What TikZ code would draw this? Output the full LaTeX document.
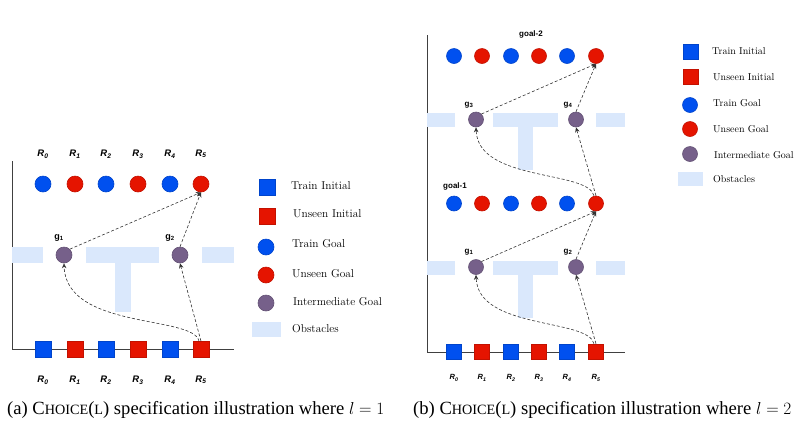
\documentclass[tikz,border=0pt]{standalone}
\usepackage{fontspec}
\usetikzlibrary{arrows.meta}
\newfontfamily\capfont{Liberation Serif}
\newfontfamily\labfont{Liberation Sans}

\definecolor{tblue}{HTML}{0050EF}
\definecolor{tred}{HTML}{E51400}
\definecolor{tpurple}{HTML}{76608A}
\definecolor{tobst}{HTML}{DAE8FC}

\newcommand\smcap[1]{{\fontsize{14.2}{14.2}\selectfont #1}}

\tikzset{
    initbox/.style={rectangle, minimum size=16pt, inner sep=0pt, fill=#1, draw=#1!85!black, line width=0.6pt},
    goaldot/.style={circle, minimum size=16pt, inner sep=0pt, fill=#1, draw=#1!85!black, line width=0.6pt},
    obstacle/.style={fill=tobst, draw=none},
    route/.style={densely dashed, line width=0.6pt, draw=black!80, -{Stealth[length=5pt,width=4.5pt]}},
    rlabel/.style={font=\labfont\bfseries\itshape\fontsize{9.5}{9.5}\selectfont, inner sep=0pt},
    glabel/.style={font=\labfont\bfseries\fontsize{9}{9}\selectfont, inner sep=0pt},
    legtext/.style={anchor=west, inner sep=0pt, font=\fontsize{11.4}{11.4}\selectfont},
}

\begin{document}
\begin{tikzpicture}[x=1pt, y=-1pt]

    \useasboundingbox (0,0) rectangle (803,424);

    % ---- (a) l = 1
    \draw[line width=0.8pt, black!75] (12,161) -- (12,349) -- (234,349);

    \fill[obstacle] (12,247) rectangle (43,263);
    \fill[obstacle] (86,247) rectangle (159,263);
    \fill[obstacle] (115,263) rectangle (131,312);
    \fill[obstacle] (202,247) rectangle (234,263);

    \foreach \i/\x/\c in {0/43/tblue, 1/75/tred, 2/106/tblue, 3/138/tred, 4/170/tblue, 5/201/tred} {
        \node[initbox=\c] (sa\i) at (\x,349.5) {};
        \node[goaldot=\c] (ga\i) at (\x,184) {};
        \node[rlabel] (ra\i) at (\x,154) {R\textsubscript{\i}};
        \node[rlabel] (qa\i) at (\x,380) {R\textsubscript{\i}};
    }

    \node[goaldot=tpurple] (ma1) at (64,255) {};
    \node[goaldot=tpurple] (ma2) at (180,255) {};
    \node[glabel] at (59,238) {g\textsubscript{1}};
    \node[glabel] at (170,238) {g\textsubscript{2}};

    \draw[route] ([xshift=-2pt]sa5.north) .. controls (194,315) and (66,330) .. (ma1.south);
    \draw[route] (sa5.north) -- (ma2.south);
    \draw[route] (ma1.north east) -- (ga5.south);
    \draw[route] (ma2.north) -- (ga5.south);

    % legend (a)
    \node[initbox=tblue] (la1) at (267,187) {};
    \node[initbox=tred] (la2) at (267,216) {};
    \node[goaldot=tblue] (la3) at (266,247) {};
    \node[goaldot=tred] (la4) at (266,275) {};
    \node[goaldot=tpurple] (la5) at (266,303) {};
    \fill[obstacle] (252,322) rectangle (281,337);
    \node[legtext] at (291,186) {Train Initial};
    \node[legtext] at (293,214) {Unseen Initial};
    \node[legtext] at (292,244) {Train Goal};
    \node[legtext] at (292,274) {Unseen Goal};
    \node[legtext] at (293,302) {Intermediate Goal};
    \node[legtext] at (292,329) {Obstacles};

    % ---- (b) l = 2
    \draw[line width=0.8pt, black!75] (427,35) -- (427,352) -- (625,352);

    \foreach \y in {113,261} {
        \fill[obstacle] (427,\y) rectangle (455,\y+14);
        \fill[obstacle] (493,\y) rectangle (558,\y+14);
        \fill[obstacle] (518,\y+14) rectangle (533,\y+57);
        \fill[obstacle] (596,\y) rectangle (625,\y+14);
    }

    \foreach \i/\x/\c in {0/454/tblue, 1/482/tred, 2/511/tblue, 3/539/tred, 4/567/tblue, 5/596/tred} {
        \node[initbox=\c, minimum size=15pt] (sb\i) at (\x,351.5) {};
        \node[goaldot=\c, minimum size=15pt] (hb\i) at (\x,203.5) {};
        \node[goaldot=\c, minimum size=15pt] (kb\i) at (\x,56) {};
        \node[rlabel, font=\labfont\bfseries\itshape\fontsize{7.5}{7.5}\selectfont] (rb\i) at (\x,378) {R\textsubscript{\i}};
    }

    \node[glabel, font=\labfont\bfseries\fontsize{8}{8}\selectfont] at (531,34) {goal-2};
    \node[glabel, font=\labfont\bfseries\fontsize{8}{8}\selectfont] at (455,186) {goal-1};

    \node[goaldot=tpurple, minimum size=15pt] (mb1) at (476,267) {};
    \node[goaldot=tpurple, minimum size=15pt] (mb2) at (576,267) {};
    \node[goaldot=tpurple, minimum size=15pt] (mb3) at (476,119.5) {};
    \node[goaldot=tpurple, minimum size=15pt] (mb4) at (576,119.5) {};
    \node[glabel, font=\labfont\bfseries\fontsize{8}{8}\selectfont] at (469,252) {g\textsubscript{1}};
    \node[glabel, font=\labfont\bfseries\fontsize{8}{8}\selectfont] at (568,252) {g\textsubscript{2}};
    \node[glabel, font=\labfont\bfseries\fontsize{8}{8}\selectfont] at (469,105) {g\textsubscript{3}};
    \node[glabel, font=\labfont\bfseries\fontsize{8}{8}\selectfont] at (568,105) {g\textsubscript{4}};

    \draw[route] ([xshift=-2pt]sb5.north) .. controls (588,318) and (478,330) .. (mb1.south);
    \draw[route] (sb5.north) -- (mb2.south);
    \draw[route] (mb1.north east) -- (hb5.south);
    \draw[route] (mb2.north) -- (hb5.south);
    \draw[route] ([xshift=-2pt]hb5.north) .. controls (588,170) and (478,182) .. (mb3.south);
    \draw[route] (hb5.north) -- (mb4.south);
    \draw[route] (mb3.north east) -- (kb5.south);
    \draw[route] (mb4.north) -- (kb5.south);

    % legend (b)
    \node[initbox=tblue, minimum size=15pt] (lb1) at (691,51.5) {};
    \node[initbox=tred, minimum size=15pt] (lb2) at (691,77) {};
    \node[goaldot=tblue, minimum size=15pt] (lb3) at (690,105) {};
    \node[goaldot=tred, minimum size=15pt] (lb4) at (690,129) {};
    \node[goaldot=tpurple, minimum size=15pt] (lb5) at (690,154) {};
    \fill[obstacle] (678,172) rectangle (703,186);
    \node[legtext, font=\fontsize{10}{10}\selectfont] at (712,51) {Train Initial};
    \node[legtext, font=\fontsize{10}{10}\selectfont] at (713,77) {Unseen Initial};
    \node[legtext, font=\fontsize{10}{10}\selectfont] at (713,103) {Train Goal};
    \node[legtext, font=\fontsize{10}{10}\selectfont] at (713,129) {Unseen Goal};
    \node[legtext, font=\fontsize{10}{10}\selectfont] at (714,155) {Intermediate Goal};
    \node[legtext, font=\fontsize{10}{10}\selectfont] at (713,179) {Obstacles};

    % captions
    \node[anchor=base west, inner sep=0pt, font=\capfont\fontsize{18.6}{18.6}\selectfont] (capa) at (7,414)
        {(a) C\smcap{HOICE}(\smcap{L}) specification illustration where $l=1$};
    \node[anchor=base west, inner sep=0pt, font=\capfont\fontsize{18.6}{18.6}\selectfont] (capb) at (413,414)
        {(b) C\smcap{HOICE}(\smcap{L}) specification illustration where $l=2$};

\end{tikzpicture}
\end{document}
